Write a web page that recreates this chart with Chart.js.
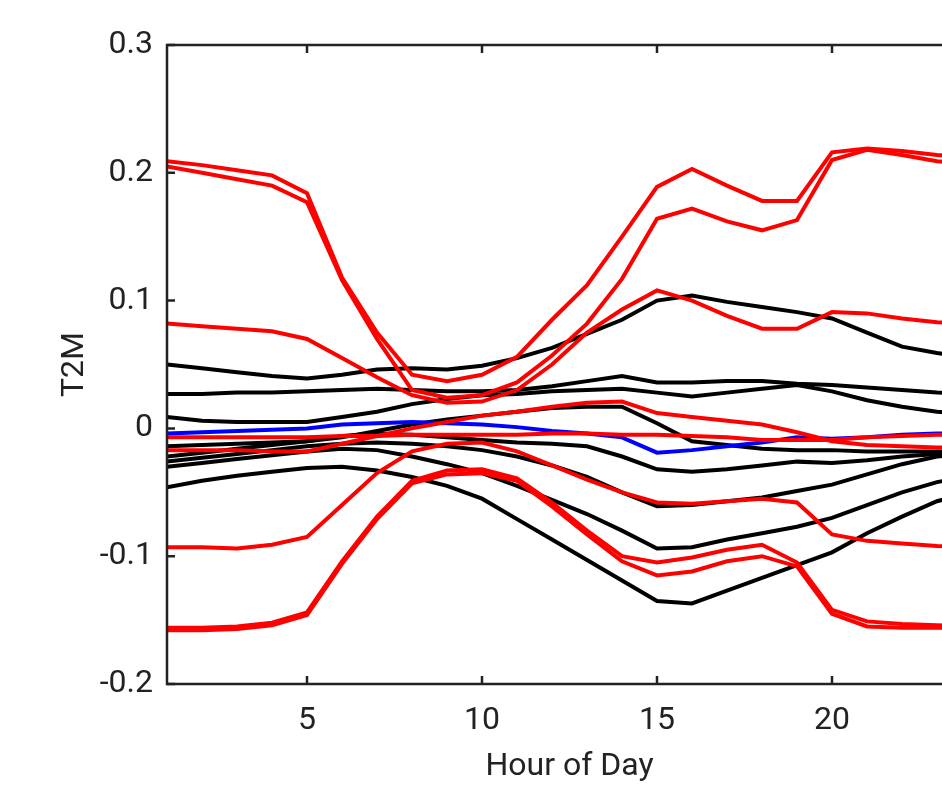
<!DOCTYPE html>
<html>
<head>
<meta charset="utf-8">
<script src="https://cdn.jsdelivr.net/npm/chart.js@4"></script>
<style>
  html, body { margin: 0; padding: 0; background: #fff; overflow: hidden; }
  #wrap { width: 1000px; height: 786px; }
</style>
</head>
<body>
<div id="wrap"><canvas id="t2mChart" width="1000" height="786"></canvas></div>
<script>
const hours = [1, 2, 3, 4, 5, 6, 7, 8, 9, 10, 11, 12, 13, 14, 15, 16, 17, 18, 19, 20, 21, 22, 23, 24];
const xTicks = [5, 10, 15, 20];
const yTicks = [-0.2, -0.1, 0, 0.1, 0.2, 0.3];

// red members
const redA = [0.209, 0.206, 0.202, 0.198, 0.184, 0.118, 0.075, 0.042, 0.037, 0.042, 0.056, 0.085, 0.112, 0.150, 0.189, 0.203, 0.190, 0.178, 0.178, 0.216, 0.219, 0.217, 0.214, 0.212];
const redB = [0.205, 0.200, 0.195, 0.190, 0.177, 0.116, 0.070, 0.030, 0.024, 0.026, 0.036, 0.057, 0.082, 0.117, 0.164, 0.172, 0.162, 0.155, 0.163, 0.210, 0.218, 0.214, 0.209, 0.207];
const redC = [0.082, 0.080, 0.078, 0.076, 0.070, 0.055, 0.040, 0.026, 0.020, 0.021, 0.030, 0.050, 0.075, 0.093, 0.108, 0.100, 0.088, 0.078, 0.078, 0.091, 0.090, 0.086, 0.083, 0.082];
const redD = [-0.007, -0.007, -0.007, -0.007, -0.007, -0.006, -0.006, -0.005, -0.005, -0.005, -0.005, -0.004, -0.004, -0.005, -0.005, -0.006, -0.007, -0.009, -0.009, -0.009, -0.007, -0.006, -0.005, -0.005];
const redE = [-0.017, -0.017, -0.017, -0.018, -0.018, -0.012, -0.006, 0.000, 0.005, 0.010, 0.013, 0.017, 0.020, 0.021, 0.012, 0.009, 0.006, 0.003, -0.003, -0.010, -0.013, -0.014, -0.015, -0.015];
const redF = [-0.093, -0.093, -0.094, -0.091, -0.085, -0.060, -0.035, -0.018, -0.012, -0.011, -0.018, -0.029, -0.040, -0.050, -0.058, -0.059, -0.057, -0.055, -0.058, -0.083, -0.088, -0.090, -0.092, -0.093];
const redG = [-0.156, -0.156, -0.155, -0.152, -0.144, -0.104, -0.069, -0.041, -0.033, -0.032, -0.039, -0.058, -0.080, -0.100, -0.105, -0.101, -0.095, -0.091, -0.105, -0.142, -0.151, -0.153, -0.154, -0.155];
const redH = [-0.158, -0.158, -0.157, -0.154, -0.146, -0.106, -0.071, -0.043, -0.036, -0.035, -0.041, -0.061, -0.083, -0.104, -0.115, -0.112, -0.104, -0.100, -0.108, -0.145, -0.155, -0.156, -0.156, -0.156];

// blue member
const blueA = [-0.004, -0.003, -0.002, -0.001, 0.000, 0.003, 0.004, 0.005, 0.004, 0.003, 0.001, -0.002, -0.004, -0.007, -0.019, -0.017, -0.014, -0.011, -0.007, -0.008, -0.007, -0.005, -0.004, -0.004];

// black members
const blackA = [0.050, 0.047, 0.044, 0.041, 0.039, 0.042, 0.046, 0.047, 0.046, 0.049, 0.055, 0.063, 0.074, 0.085, 0.100, 0.104, 0.099, 0.095, 0.091, 0.086, 0.075, 0.064, 0.059, 0.055];
const blackB = [0.027, 0.027, 0.028, 0.028, 0.029, 0.030, 0.031, 0.030, 0.029, 0.029, 0.030, 0.033, 0.037, 0.041, 0.036, 0.036, 0.037, 0.037, 0.035, 0.034, 0.032, 0.030, 0.028, 0.027];
const blackC = [0.009, 0.006, 0.005, 0.005, 0.005, 0.009, 0.013, 0.019, 0.023, 0.026, 0.027, 0.029, 0.030, 0.031, 0.028, 0.025, 0.028, 0.031, 0.034, 0.029, 0.022, 0.017, 0.013, 0.011];
const blackD = [-0.014, -0.013, -0.012, -0.011, -0.010, -0.007, -0.002, 0.003, 0.007, 0.010, 0.013, 0.016, 0.017, 0.017, 0.004, -0.010, -0.013, -0.016, -0.017, -0.017, -0.018, -0.018, -0.018, -0.018];
const blackE = [-0.022, -0.019, -0.016, -0.013, -0.010, -0.006, -0.004, -0.005, -0.007, -0.009, -0.011, -0.012, -0.014, -0.022, -0.032, -0.034, -0.032, -0.029, -0.026, -0.027, -0.025, -0.022, -0.020, -0.019];
const blackF = [-0.026, -0.023, -0.020, -0.017, -0.014, -0.012, -0.011, -0.012, -0.014, -0.017, -0.022, -0.029, -0.038, -0.050, -0.061, -0.060, -0.057, -0.054, -0.049, -0.044, -0.036, -0.028, -0.022, -0.020];
const blackG = [-0.030, -0.027, -0.024, -0.021, -0.018, -0.016, -0.017, -0.022, -0.028, -0.035, -0.045, -0.056, -0.067, -0.080, -0.094, -0.093, -0.087, -0.082, -0.077, -0.070, -0.060, -0.050, -0.042, -0.037];
const blackH = [-0.046, -0.041, -0.037, -0.034, -0.031, -0.030, -0.033, -0.038, -0.045, -0.055, -0.071, -0.087, -0.103, -0.119, -0.135, -0.137, -0.127, -0.117, -0.107, -0.097, -0.082, -0.069, -0.057, -0.050];

const redSeries = [redA, redB, redC, redD, redE, redF, redG, redH];
const blueSeries = [blueA];
const blackSeries = [blackA, blackB, blackC, blackD, blackE, blackF, blackG, blackH];

const axisColor = "#222222";
const font = { family: "Roboto", size: 32 };

function makeSet(vals, color) {
  return {
    data: hours.map((h, i) => ({ x: h, y: vals[i] })),
    borderColor: color,
    borderWidth: 4,
    pointRadius: 0,
    tension: 0,
    fill: false,
  };
}

// first dataset is painted last, so red sits on top, black underneath
const datasets = [
  ...redSeries.map((s) => makeSet(s, "#ff0000")),
  ...blueSeries.map((s) => makeSet(s, "#0000ff")),
  ...blackSeries.map((s) => makeSet(s, "#000000")),
];

// box around the axes with inward tick marks
const axesBox = {
  id: "axesBox",
  afterDatasetsDraw(chart) {
    const { ctx, chartArea: a, scales } = chart;
    const len = 8;
    ctx.save();
    ctx.strokeStyle = axisColor;
    ctx.lineWidth = 2.5;
    ctx.strokeRect(a.left, a.top, a.right - a.left, a.bottom - a.top);
    ctx.beginPath();
    xTicks.forEach((t) => {
      const px = scales.x.getPixelForValue(t);
      ctx.moveTo(px, a.bottom);
      ctx.lineTo(px, a.bottom - len);
      ctx.moveTo(px, a.top);
      ctx.lineTo(px, a.top + len);
    });
    yTicks.forEach((t) => {
      const py = scales.y.getPixelForValue(t);
      ctx.moveTo(a.left, py);
      ctx.lineTo(a.left + len, py);
      ctx.moveTo(a.right, py);
      ctx.lineTo(a.right - len, py);
    });
    ctx.stroke();
    ctx.restore();
  },
};

const ctx = document.getElementById("t2mChart").getContext("2d");
new Chart(ctx, {
  type: "line",
  data: { datasets: datasets },
  plugins: [axesBox],
  options: {
    responsive: false,
    animation: false,
    layout: { padding: { top: 45, right: 28, left: 0, bottom: 0 } },
    plugins: { legend: { display: false }, tooltip: { enabled: false } },
    scales: {
      x: {
        type: "linear",
        min: 1,
        max: 24,
        grid: { display: false, drawTicks: false },
        border: { display: false },
        afterBuildTicks: (scale) => {
          scale.ticks = xTicks.map((v) => ({ value: v }));
        },
        afterFit: (scale) => {
          scale.height = 102;
        },
        ticks: {
          color: axisColor,
          font: font,
          padding: 18,
          maxRotation: 0,
          callback: (v) => String(v),
        },
        title: {
          display: true,
          text: "Hour of Day",
          color: axisColor,
          font: font,
          padding: { top: 0, bottom: 0 },
        },
      },
      y: {
        min: -0.2,
        max: 0.3,
        grid: { display: false, drawTicks: false },
        border: { display: false },
        afterBuildTicks: (scale) => {
          scale.ticks = yTicks.map((v) => ({ value: v }));
        },
        afterFit: (scale) => {
          scale.width = 167;
        },
        ticks: {
          color: axisColor,
          font: font,
          padding: 14,
          callback: (v) => String(Math.round(v * 10) / 10),
        },
        title: {
          display: true,
          text: "T2M",
          color: axisColor,
          font: font,
          padding: { top: 56, bottom: 0 },
        },
      },
    },
  },
});
</script>
</body>
</html>
